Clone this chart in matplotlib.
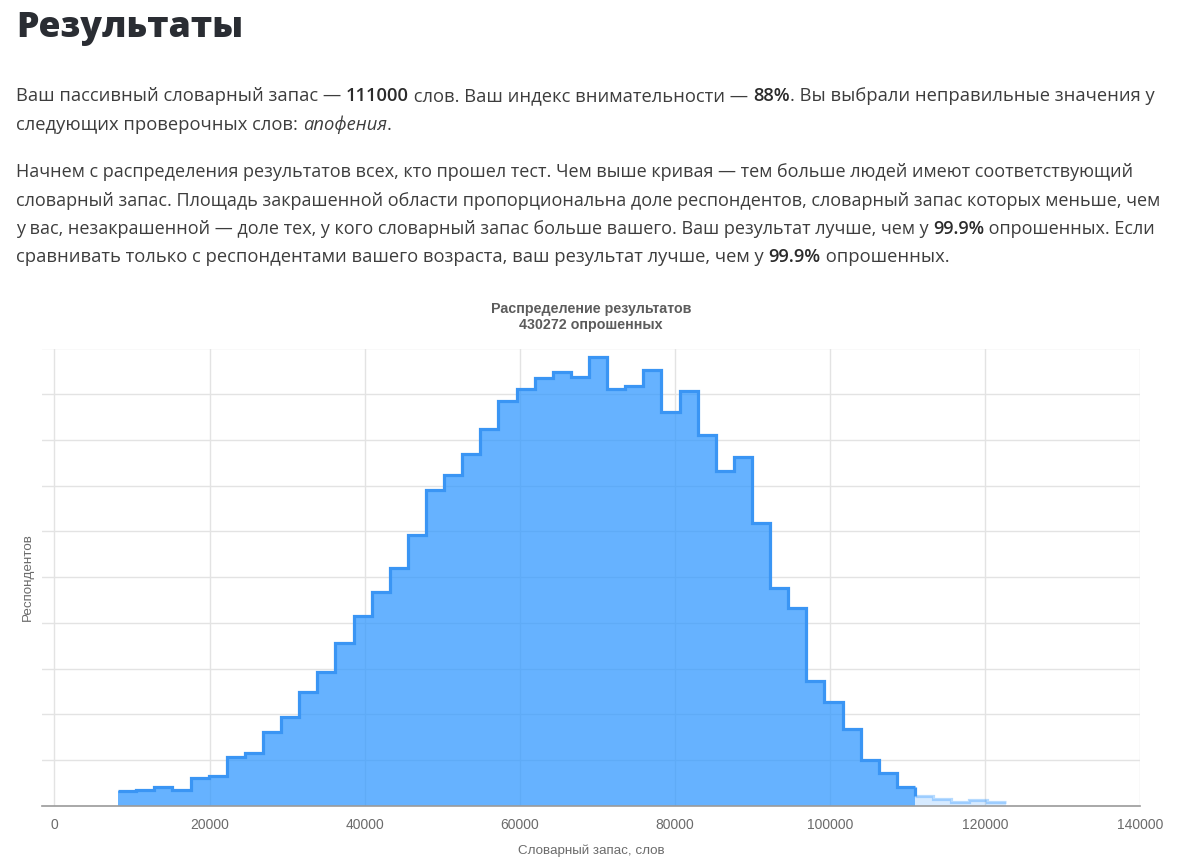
import numpy as np
import matplotlib
matplotlib.use("Agg")
import matplotlib.pyplot as plt
from matplotlib.font_manager import FontProperties

# ---------------- data ----------------
bin_start = 8200
bin_width = 2336
user_score = 111000
respondents_total = 430272
# respondents per bin (dark = below user's score, light = above)
counts_below = [660, 700, 830, 700, 1210, 1310, 2140, 2320, 3240, 3890,
                4980, 5860, 7110, 8300, 9340, 10390, 11860, 13820, 14480, 15380,
                16500, 17710, 18220, 18700, 18990, 18750, 19650, 18220, 18340, 19070,
                17240, 18120, 16210, 14650, 15270, 12380, 9510, 8640, 5460, 4520,
                3360, 2000, 1420, 810]
counts_above = [440, 290, 180, 250, 180]
x_ticks = [0, 20000, 40000, 60000, 80000, 100000, 120000, 140000]
y_grid = [0, 2000, 4000, 6000, 8000, 10000, 12000, 14000, 16000, 18000, 20000]

chart_title = "Распределение результатов"
chart_subtitle = f"{respondents_total} опрошенных"
x_label = "Словарный запас, слов"
y_label = "Респондентов"
header = "Результаты"

para1 = [
    [("Ваш пассивный словарный запас — ", "normal", "normal"),
     (f"{user_score}", "semibold", "normal"),
     (" слов. Ваш индекс внимательности — ", "normal", "normal"),
     ("88%", "semibold", "normal"),
     (". Вы выбрали неправильные значения у", "normal", "normal")],
    [("следующих проверочных слов: ", "normal", "normal"),
     ("апофения", "normal", "italic"),
     (".", "normal", "normal")],
]
para2 = [
    [("Начнем с распределения результатов всех, кто прошел тест. Чем выше кривая — тем больше людей имеют соответствующий", "normal", "normal")],
    [("словарный запас. Площадь закрашенной области пропорциональна доле респондентов, словарный запас которых меньше, чем", "normal", "normal")],
    [("у вас, незакрашенной — доле тех, у кого словарный запас больше вашего. Ваш результат лучше, чем у ", "normal", "normal"),
     ("99.9%", "semibold", "normal"),
     (" опрошенных. Если", "normal", "normal")],
    [("сравнивать только с респондентами вашего возраста, ваш результат лучше, чем у ", "normal", "normal"),
     ("99.9%", "semibold", "normal"),
     (" опрошенных.", "normal", "normal")],
]

# ---------------- figure ----------------
W, H = 1178, 867
fig = plt.figure(figsize=(W / 100, H / 100), dpi=100)
fig.patch.set_facecolor("white")
renderer = fig.canvas.get_renderer()

BODY_FAMILY = ["Open Sans", "DejaVu Sans"]


def text_width(s, fp):
    w1 = renderer.get_text_width_height_descent("|" + s + "|", fp, ismath=False)[0]
    w0 = renderer.get_text_width_height_descent("||", fp, ismath=False)[0]
    return w1 - w0


def fp_for(weight, style, size):
    return FontProperties(family=BODY_FAMILY, weight=weight, style=style, size=size)


def line_width(runs, size):
    return sum(text_width(t, fp_for(w, s, size)) for t, w, s in runs)


def draw_line(runs, x0, ybase, size):
    x = x0
    for t, w, s in runs:
        fp = fp_for(w, s, size)
        col = "#2b2b2b" if w != "normal" else "#3d3d3d"
        fig.text(x / W, 1 - ybase / H, t, fontproperties=fp, color=col,
                 ha="left", va="baseline")
        x += text_width(t, fp)


def fitted_size(runs, target, base=12.0):
    return base * target / line_width(runs, base)


# header
hfp = FontProperties(family=BODY_FAMILY, weight="heavy", size=28)
hsize = 28 * 227 / text_width(header, hfp)
hfp = FontProperties(family=BODY_FAMILY, weight="heavy", size=hsize)
fig.text(16 / W, 1 - 37 / H, header, fontproperties=hfp, color="#2a2d33",
         ha="left", va="baseline")

x_text = 16
ref_size = fitted_size(para1[0], 1130)
line_specs = [
    (para1[0], 101, 1130),
    (para1[1], 129.5, None),
    (para2[0], 177, 1117),
    (para2[1], 205.5, 1137),
    (para2[2], 234, 1139),
    (para2[3], 262.5, None),
]
for runs, yb, target in line_specs:
    size = ref_size if target is None else min(fitted_size(runs, target), ref_size * 1.03)
    draw_line(runs, x_text, yb, size)

# ---------------- chart ----------------
left, right = 42, 1140
top, bottom = 348.5, 805.7
ax = fig.add_axes([left / W, 1 - bottom / H, (right - left) / W, (bottom - top) / H])
ax.set_xlim(-1610, 140000)
ax.set_ylim(0, 20000)

for v in x_ticks:
    ax.axvline(v, color="#e3e3e3", lw=1, zorder=0)
for v in y_grid[1:]:
    ax.axhline(v, color="#e3e3e3", lw=1, zorder=0)

n_below = len(counts_below)
edges_all = bin_start + bin_width * np.arange(n_below + len(counts_above) + 1)
edges_below = edges_all[:n_below + 1]
edges_above = edges_all[n_below:]

ax.stairs(counts_below, edges_below, fill=True, color="#3399ff", alpha=0.75,
          lw=0, zorder=2)
ax.stairs(counts_below, edges_below, baseline=None, color="#3a95f4", lw=2.3,
          zorder=3)
ax.stairs(counts_above, edges_above, fill=True, color="#3399ff", alpha=0.2,
          lw=0, zorder=2)
ax.stairs(counts_above, edges_above, baseline=None, color="#3399ff", alpha=0.35,
          lw=2.3, zorder=3)
ax.vlines(edges_below[-1], counts_above[0], counts_below[-1], color="#3a95f4",
          lw=2.3, zorder=3)

for sp in ["top", "right", "left"]:
    ax.spines[sp].set_visible(False)
ax.spines["bottom"].set_color("#9a9a9a")
ax.spines["bottom"].set_linewidth(1.2)
ax.spines["bottom"].set_zorder(4)

ax.set_xticks(x_ticks)
ax.set_xticklabels([str(v) for v in x_ticks])
ax.set_yticks([])
ax.tick_params(axis="x", length=0, pad=9, labelsize=10, labelcolor="#6b6b6b")
for lab in ax.get_xticklabels():
    lab.set_fontfamily(["Liberation Sans", "DejaVu Sans"])

chart_font = ["Liberation Sans", "DejaVu Sans"]
fig.text(591 / W, 1 - 309 / H, chart_title, family=chart_font, weight="bold",
         size=10.3, color="#5c5c5c", ha="center", va="center")
fig.text(591 / W, 1 - 325.5 / H, chart_subtitle, family=chart_font, weight="bold",
         size=10.3, color="#5c5c5c", ha="center", va="center")
fig.text(591 / W, 1 - 851 / H, x_label, family=chart_font, size=9.6,
         color="#6b6b6b", ha="center", va="center")
fig.text(28 / W, 1 - 577 / H, y_label, family=chart_font, size=9.6,
         color="#6b6b6b", ha="center", va="center", rotation=90)

fig.savefig("out.png", dpi=100, facecolor="white")
